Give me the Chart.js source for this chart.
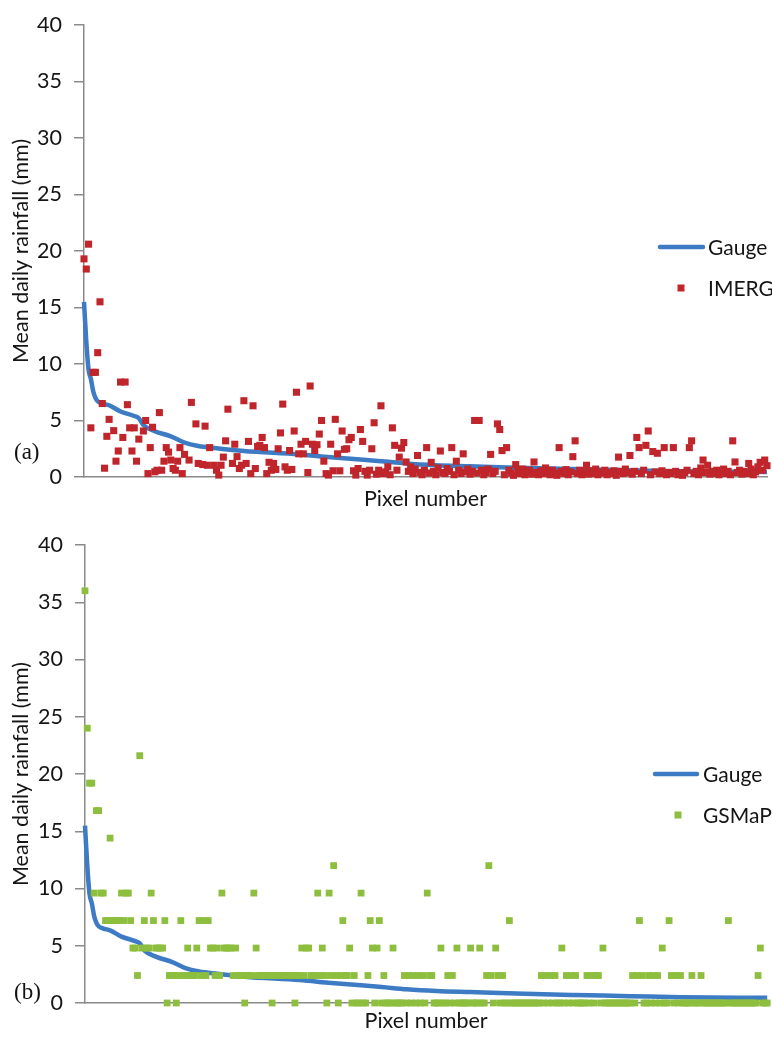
<!DOCTYPE html>
<html><head><meta charset="utf-8">
<script src="https://cdn.jsdelivr.net/npm/chart.js@4.4.1/dist/chart.umd.min.js"></script>
<style>
html,body{margin:0;padding:0;background:#fff;}
#wrap{position:relative;width:772px;height:1041px;overflow:hidden;}
.box{position:absolute;left:0;width:772px;}
#boxA{top:0;height:515px;}
#boxB{top:520px;height:521px;}
.tag{position:absolute;font-family:"Liberation Serif","DejaVu Serif",serif;font-size:23px;line-height:23px;color:#111;}
</style></head><body>
<div id="wrap">
  <div class="box" id="boxA"><canvas id="chartA"></canvas></div>
  <div class="box" id="boxB"><canvas id="chartB"></canvas></div>
  <div class="tag" style="left:14px;top:440px">(a)</div>
  <div class="tag" style="left:14px;top:980px">(b)</div>
</div>
<script>
// ---- data (pixel number = index + 1) ----
const pixelCount = 300;
const gaugePixel = [1, 2, 3, 4, 5, 6, 7, 9, 12, 17, 23, 25, 27, 32, 39, 45, 51, 59, 71, 95, 109, 122, 131, 142, 155, 170, 190, 215, 240, 262, 300];
const gaugeValue = [15.5, 12.0, 9.5, 8.7, 7.6, 7.0, 6.7, 6.5, 6.35, 5.8, 5.4, 5.2, 4.6, 4.05, 3.6, 3.05, 2.75, 2.55, 2.3, 2.0, 1.75, 1.55, 1.4, 1.2, 1.05, 0.95, 0.82, 0.7, 0.6, 0.5, 0.45];

const imergValue = [
  19.3, 18.4, 20.6, 4.35, 9.26, 9.26, 11.0, 15.5, 6.5, 0.78,
  3.6, 5.1, null, 4.1, 1.4, 2.3, 8.4, 3.5, 8.4, 6.4,
  4.35, 2.3, 4.35, 1.4, 3.35, null, 4.07, 5.0, 0.3, 2.6,
  4.4, 0.46, 0.6, 5.7, 0.6, 1.4, 2.6, 2.2, 1.5, 0.75,
  0.6, 1.4, 2.6, 0.3, 2.0, null, 1.5, 6.6, null, 4.7,
  1.2, null, 1.1, 4.5, 1.04, 2.6, null, 1.04, 0.6, 0.17,
  1.04, 1.76, 3.2, 6.0, null, 1.2, 2.9, 1.8, 0.75, 1.04,
  6.75, 1.2, 3.15, 0.3, 6.3, 0.75, 2.7, 2.8, 3.5, 2.6,
  0.3, 1.3, 0.6, 1.2, 0.67, 2.5, 3.9, 6.45, 0.9, 0.6,
  2.34, 0.67, 4.07, 7.5, 2.05, 2.9, 2.05, 3.15, 0.4, 8.05,
  2.9, 2.34, 2.86, 3.8, 5.0, 1.4, 0.3, 0.17, 2.9, 0.55,
  5.1, 2.05, 0.55, 4.07, 2.45, 2.5, 3.3, 3.5, 0.55, 0.17,
  0.75, 4.2, 3.15, 0.5, 0.17, 0.6, 2.5, 4.8, 0.25, 0.6,
  6.3, 0.3, 0.45, 0.9, 0.2, 4.35, 2.8, 0.6, 1.76, 2.55,
  3.05, 1.33, 0.5, 0.9, 0.3, 0.7, 1.9, 0.4, 0.2, 0.6,
  2.6, 0.35, 1.3, 0.5, 0.2, 0.8, 2.3, 0.4, 0.3, 0.75,
  0.5, 2.6, 0.2, 1.4, 0.6, 0.3, 2.05, 0.45, 0.7, 0.25,
  0.5, 5.0, 0.35, 5.0, 0.6, 0.2, 0.4, 0.7, 2.0, 0.3,
  0.5, 4.7, 4.2, 2.34, 0.2, 2.6, 0.6, 0.35, 0.15, 1.1,
  0.5, 0.3, 0.7, 0.2, 0.45, 0.6, 0.25, 1.33, 0.4, 0.2,
  0.55, 0.3, 0.8, 0.4, 0.2, 0.6, 0.35, 0.15, 2.6, 0.5,
  0.3, 0.65, 0.2, 0.45, 1.8, 3.2, 0.3, 0.6, 0.2, 0.4,
  1.04, 0.25, 0.55, 0.3, 0.7, 0.2, 0.45, 0.35, 0.6, 0.2,
  0.4, 0.3, 0.55, 0.15, 1.76, 0.5, 0.3, 0.7, 0.4, 1.9,
  0.25, 0.5, 3.5, 2.6, 0.3, 0.6, 2.8, 4.07, 0.2, 2.25,
  0.45, 2.1, 0.3, 0.55, 2.6, 0.2, 0.4, 0.3, 2.6, 0.5,
  0.2, 0.35, 0.15, 0.4, 0.6, 2.6, 3.2, 0.3, 0.5, 0.2,
  0.8, 1.5, 0.4, 1.04, 0.25, 0.5, 0.3, 0.6, 0.2, 0.45,
  0.7, 0.3, 0.5, 0.2, 3.2, 1.33, 0.4, 0.6, 0.25, 0.5,
  0.3, 1.2, 0.7, 0.2, 0.45, 0.9, 1.3, 0.6, 1.5, 1.0
];

const gsmapValue = [
  36, 24, 19.2, 19.2, 9.6, 16.8, 16.8, 9.6, 9.6, 7.2,
  7.2, 14.4, 7.2, 7.2, 7.2, 7.2, 9.6, 7.2, 9.6, 9.6,
  7.2, 4.8, 4.8, 2.4, 21.6, 4.8, 7.2, 4.8, 4.8, 9.6,
  7.2, 4.8, 4.8, 4.8, 4.8, 7.2, 0, 2.4, 2.4, 2.4,
  0, 2.4, 7.2, 2.4, 2.4, 4.8, 2.4, 2.4, 2.4, 4.8,
  7.2, 2.4, 7.2, 2.4, 7.2, 4.8, 4.8, 2.4, 4.8, 2.4,
  9.6, 4.8, 4.8, 4.8, 4.8, 2.4, 4.8, 2.4, 2.4, 2.4,
  0, 2.4, 2.4, 2.4, 9.6, 4.8, 2.4, 2.4, 2.4, 2.4,
  2.4, 2.4, 0, 2.4, 2.4, 2.4, 2.4, 2.4, 2.4, 2.4,
  2.4, 2.4, 0, 2.4, 2.4, 4.8, 2.4, 4.8, 4.8, 2.4,
  2.4, 2.4, 9.6, 2.4, 4.8, 2.4, 0, 9.6, 2.4, 12,
  2.4, 0, 2.4, 7.2, 2.4, 2.4, 4.8, 0, 2.4, 0,
  0, 9.6, 0, 0, 2.4, 7.2, 4.8, 0, 4.8, 7.2,
  0, 2.4, 0, 0, 0, 4.8, 0, 0, 0, 0,
  2.4, 0, 2.4, 0, 2.4, 0, 2.4, 0, 2.4, 0,
  9.6, 2.4, 2.4, 0, 0, 0, 4.8, 0, 0, 2.4,
  0, 2.4, 0, 4.8, 0, 0, 0, 0, 0, 4.8,
  0, 0, 0, 4.8, 0, 0, 2.4, 12, 2.4, 0,
  4.8, 2.4, 0, 2.4, 0, 0, 7.2, 0, 0, 0,
  0, 0, 0, 0, 0, 0, 0, 0, 0, 0,
  2.4, 0, 2.4, 0, 2.4, 0, 2.4, 0, 0, 4.8,
  0, 2.4, 0, 2.4, 0, 2.4, 0, 0, 0, 0,
  2.4, 0, 2.4, 0, 2.4, 2.4, 0, 4.8, 0, 0,
  0, 0, 0, 0, 0, 0, 0, 0, 0, 0,
  2.4, 0, 2.4, 7.2, 2.4, 0, 0, 2.4, 0, 2.4,
  0, 2.4, 0, 4.8, 0, 0, 7.2, 2.4, 0, 2.4,
  0, 2.4, 0, 0, 0, 0, 2.4, 0, 0, 0,
  2.4, 0, 0, 0, 0, 0, 0, 0, 0, 0,
  0, 0, 7.2, 0, 0, 0, 0, 0, 0, 0,
  0, 0, 0, 0, 0, 2.4, 4.8, 0, 0, 0
];

const yTickMin = 0, yTickMax = 40, yTickStep = 5;
const seriesNames = { gauge: 'Gauge', imerg: 'IMERG', gsmap: 'GSMaP' };
const xTitle = 'Pixel number';
const yTitle = 'Mean daily rainfall (mm)';

// ---- styling ----
const BLUE = '#3D7BC4';
const RED = '#BF252B';
const GREEN = '#8DBE3E';
const AXIS = '#8a8a8a';
const TXT = '#151515';
const FONT = 'Lato, "Open Sans", sans-serif';

const toPoints = (vals) => vals.map((v, i) => ({ x: i + 1, y: v }));
const gaugePoints = gaugePixel.map((p, i) => ({ x: p, y: gaugeValue[i] }));

const floatLegend = {
  id: 'floatLegend',
  afterDatasetsDraw(chart, args, opts) {
    const ctx = chart.ctx;
    ctx.save();
    ctx.font = opts.font;
    ctx.textBaseline = 'middle';
    ctx.textAlign = 'left';
    opts.items.forEach(it => {
      const ds = chart.data.datasets[it.dataset];
      if (it.kind === 'line') {
        ctx.strokeStyle = ds.borderColor;
        ctx.lineWidth = ds.borderWidth;
        ctx.lineCap = 'round';
        ctx.beginPath();
        ctx.moveTo(it.x0, it.y);
        ctx.lineTo(it.x1, it.y);
        ctx.stroke();
      } else {
        const s = it.size;
        ctx.fillStyle = ds.backgroundColor;
        ctx.fillRect(it.mx - s / 2, it.y - s / 2, s, s);
      }
      ctx.fillStyle = TXT;
      ctx.fillText(ds.label, it.tx, it.y + 1);
    });
    ctx.restore();
  }
};

function makeChart(id, scatterName, scatterVals, color, radius, cfg) {
  return new Chart(document.getElementById(id), {
    type: 'scatter',
    data: {
      datasets: [
        {
          label: scatterName,
          data: toPoints(scatterVals),
          backgroundColor: color,
          borderColor: color,
          pointStyle: 'rect',
          pointRadius: radius,
          pointBorderWidth: 0,
          showLine: false,
          order: 0,
          clip: false
        },
        {
          label: seriesNames.gauge,
          data: gaugePoints,
          borderColor: BLUE,
          backgroundColor: BLUE,
          borderWidth: 4.5,
          pointRadius: 0,
          showLine: true,
          cubicInterpolationMode: 'monotone',
          order: 1,
          clip: false
        }
      ]
    },
    options: {
      responsive: true,
      maintainAspectRatio: false,
      animation: false,
      events: [],
      layout: { padding: { top: cfg.padTop, right: 2, left: 0, bottom: 0 } },
      plugins: {
        legend: { display: false },
        tooltip: { enabled: false },
        floatLegend: {
          font: '21px ' + FONT,
          items: [
            { dataset: 1, kind: 'line', x0: cfg.lx0, x1: cfg.lx1, y: cfg.ly1, tx: cfg.tx },
            { dataset: 0, kind: 'marker', mx: cfg.mx, size: 7, y: cfg.ly2, tx: cfg.tx }
          ]
        }
      },
      scales: {
        x: {
          type: 'linear',
          min: 1,
          max: pixelCount,
          afterFit(scale) { scale.height = 38; },
          grid: { display: false },
          border: { display: true, color: AXIS, width: 1.5 },
          ticks: { display: false },
          title: {
            display: true, text: xTitle, color: TXT,
            font: { family: FONT, size: 21.5 },
            padding: { top: 0, bottom: cfg.xTitlePad }
          }
        },
        y: {
          min: yTickMin,
          max: yTickMax,
          afterFit(scale) { scale.width = cfg.yWidth; },
          grid: { display: true, drawOnChartArea: false, drawTicks: true, tickLength: 10, color: AXIS, lineWidth: 1.5 },
          border: { display: true, color: AXIS, width: 1.5 },
          ticks: { stepSize: yTickStep, padding: 12, color: TXT, font: { family: FONT, size: 21.5 } },
          title: {
            display: true, text: yTitle, color: TXT,
            font: { family: FONT, size: 21.5 },
            padding: { top: 8, bottom: 0 }
          }
        }
      }
    },
    plugins: [floatLegend]
  });
}

makeChart('chartA', seriesNames.imerg, imergValue, RED, 5,
  { padTop: 15, yWidth: 84, xTitlePad: 3, lx0: 660, lx1: 703, ly1: 247, ly2: 288, mx: 681, tx: 708 });
makeChart('chartB', seriesNames.gsmap, gsmapValue, GREEN, 4.8,
  { padTop: 25, yWidth: 85, xTitlePad: 7, lx0: 655, lx1: 697, ly1: 254, ly2: 295, mx: 678, tx: 703 });
</script>
</body></html>
